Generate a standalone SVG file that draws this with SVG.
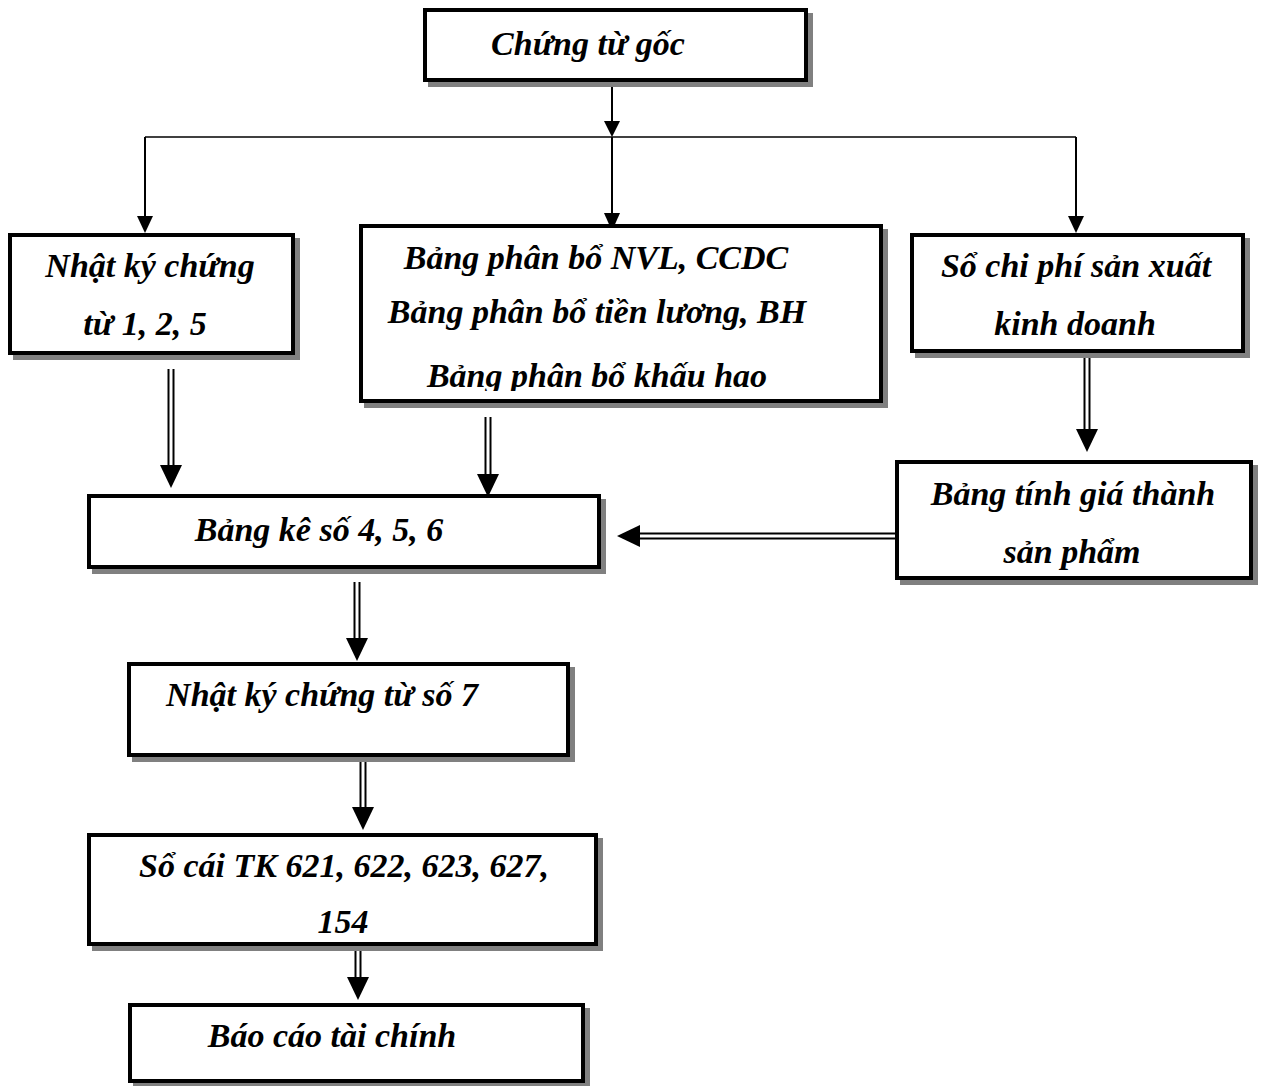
<svg xmlns="http://www.w3.org/2000/svg" width="1267" height="1086" viewBox="0 0 1267 1086">
  <style>
    .shadow { fill: #808080; }
    .box { fill: #ffffff; stroke: #000000; stroke-width: 4; }
    .label { font-family: "Liberation Serif", "Times New Roman", serif; font-size: 34px; font-weight: bold; font-style: italic; fill: #000000; text-anchor: middle; }
    .thin { stroke: #000000; stroke-width: 2; fill: none; }
    .rail { stroke: #000000; stroke-width: 2; fill: none; }
    .head { fill: #000000; }
  </style>
  <defs>
    <clipPath id="clip-alloc"><rect x="361" y="226" width="520" height="165"/></clipPath>
    <clipPath id="clip-ledger"><rect x="89" y="835" width="507" height="100"/></clipPath>
  </defs>
  <rect width="1267" height="1086" fill="#ffffff"/>

  <!-- connectors -->
  <g id="connectors">
    <!-- single-line branch from the source documents -->
    <line class="thin" x1="612" y1="82" x2="612" y2="122"/>
    <polygon class="head" points="604,121 620,121 612,137"/>
    <line x1="145" y1="137" x2="1076" y2="137" stroke="#000" stroke-width="1.5"/>
    <line class="thin" x1="145" y1="137" x2="145" y2="217"/>
    <polygon class="head" points="137,216 153,216 145,233"/>
    <line class="thin" x1="612" y1="137" x2="612" y2="214"/>
    <polygon class="head" points="604,213 620,213 612,231"/>
    <line class="thin" x1="1076" y1="137" x2="1076" y2="217"/>
    <polygon class="head" points="1068,216 1084,216 1076,233"/>

    <!-- double-line arrows -->
    <line class="rail" x1="168.5" y1="369" x2="168.5" y2="468"/>
    <line class="rail" x1="173.5" y1="369" x2="173.5" y2="468"/>
    <polygon class="head" points="160,465 182,465 171,488"/>

    <line class="rail" x1="485.5" y1="417" x2="485.5" y2="477"/>
    <line class="rail" x1="490.5" y1="417" x2="490.5" y2="477"/>
    <polygon class="head" points="477,474 499,474 488,497"/>

    <line class="rail" x1="1084.5" y1="357" x2="1084.5" y2="432"/>
    <line class="rail" x1="1089.5" y1="357" x2="1089.5" y2="432"/>
    <polygon class="head" points="1076,429 1098,429 1087,452"/>

    <line class="rail" x1="895" y1="533.5" x2="637" y2="533.5"/>
    <line class="rail" x1="895" y1="538.5" x2="637" y2="538.5"/>
    <polygon class="head" points="640,525 640,547 617,536"/>

    <line class="rail" x1="354.5" y1="582" x2="354.5" y2="641"/>
    <line class="rail" x1="359.5" y1="582" x2="359.5" y2="641"/>
    <polygon class="head" points="346,638 368,638 357,661"/>

    <line class="rail" x1="360.5" y1="757" x2="360.5" y2="810"/>
    <line class="rail" x1="365.5" y1="757" x2="365.5" y2="810"/>
    <polygon class="head" points="352,807 374,807 363,830"/>

    <line class="rail" x1="355.5" y1="948" x2="355.5" y2="980"/>
    <line class="rail" x1="360.5" y1="948" x2="360.5" y2="980"/>
    <polygon class="head" points="347,977 369,977 358,1000"/>
  </g>

  <!-- nodes -->
  <g id="node-source">
    <rect class="shadow" x="428" y="13" width="385" height="74"/>
    <rect class="box" x="425" y="10" width="381" height="70"/>
    <text class="label" x="588" y="55">Chứng từ gốc</text>
  </g>

  <g id="node-journal-125">
    <rect class="shadow" x="13" y="238" width="287" height="122"/>
    <rect class="box" x="10" y="235" width="283" height="118"/>
    <text class="label" x="150" y="277">Nhật ký chứng</text>
    <text class="label" x="145" y="335">từ 1, 2, 5</text>
  </g>

  <g id="node-allocation">
    <rect class="shadow" x="364" y="229" width="524" height="179"/>
    <rect class="box" x="361" y="226" width="520" height="175"/>
    <text class="label" x="596" y="269">Bảng phân bổ NVL, CCDC</text>
    <text class="label" x="597" y="323">Bảng phân bổ tiền lương, BH</text>
    <text class="label" x="597" y="387" clip-path="url(#clip-alloc)">Bảng phân bổ khấu hao</text>
  </g>

  <g id="node-cost-book">
    <rect class="shadow" x="915" y="238" width="335" height="120"/>
    <rect class="box" x="912" y="235" width="331" height="116"/>
    <text class="label" x="1076" y="277">Sổ chi phí sản xuất</text>
    <text class="label" x="1075" y="335">kinh doanh</text>
  </g>

  <g id="node-costing">
    <rect class="shadow" x="900" y="465" width="358" height="120"/>
    <rect class="box" x="897" y="462" width="354" height="116"/>
    <text class="label" x="1073" y="505">Bảng tính giá thành</text>
    <text class="label" x="1072" y="563">sản phẩm</text>
  </g>

  <g id="node-statements-456">
    <rect class="shadow" x="92" y="499" width="514" height="75"/>
    <rect class="box" x="89" y="496" width="510" height="71"/>
    <text class="label" x="319" y="541">Bảng kê số 4, 5, 6</text>
  </g>

  <g id="node-journal-7">
    <rect class="shadow" x="132" y="667" width="443" height="95"/>
    <rect class="box" x="129" y="664" width="439" height="91"/>
    <text class="label" x="322" y="706">Nhật ký chứng từ số 7</text>
  </g>

  <g id="node-ledger">
    <rect class="shadow" x="92" y="838" width="511" height="113"/>
    <rect class="box" x="89" y="835" width="507" height="109"/>
    <text class="label" x="344" y="877">Sổ cái TK 621, 622, 623, 627,</text>
    <text class="label" x="343" y="933" clip-path="url(#clip-ledger)">154</text>
  </g>

  <g id="node-report">
    <rect class="shadow" x="133" y="1008" width="457" height="80"/>
    <rect class="box" x="130" y="1005" width="453" height="76"/>
    <text class="label" x="332" y="1047">Báo cáo tài chính</text>
  </g>
</svg>
